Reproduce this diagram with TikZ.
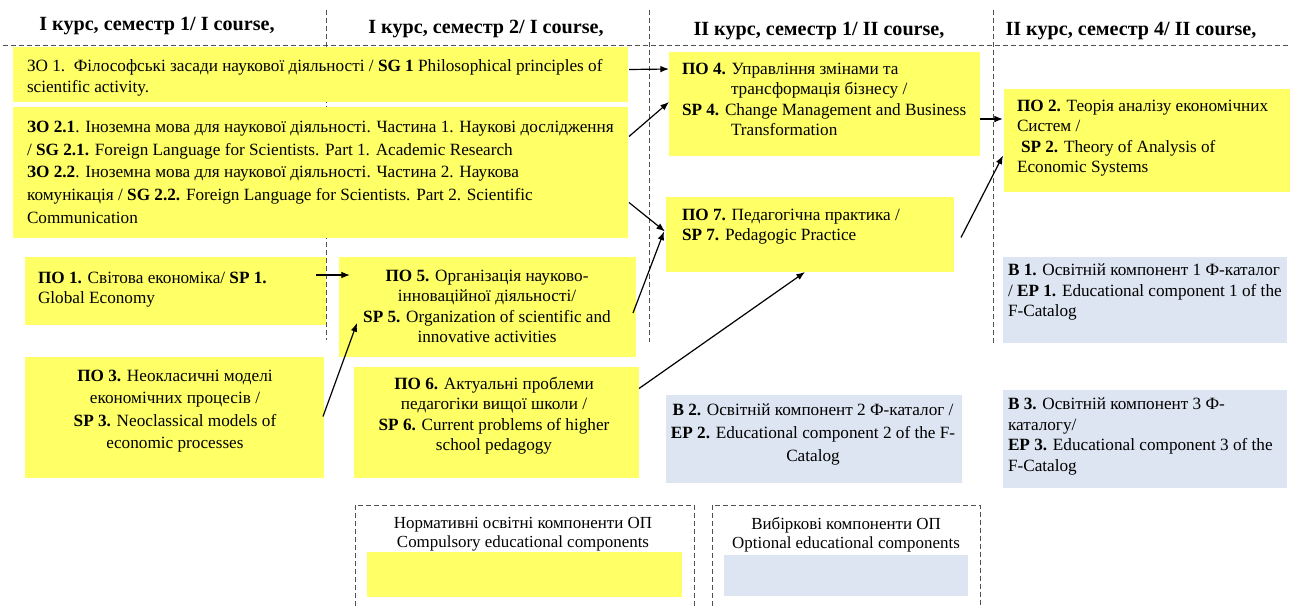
\documentclass[tikz,border=0pt]{standalone}
\usepackage{fontspec}
\setmainfont{Liberation Serif}
\usetikzlibrary{arrows.meta,fit}
\definecolor{yel}{RGB}{255,255,102}
\definecolor{blu}{RGB}{220,229,241}
\definecolor{dashc}{RGB}{80,80,80}
\begin{document}
\begin{tikzpicture}[x=0.75pt,y=-0.75pt,
  ybox/.style={fill=yel,draw=none,inner sep=0pt,outer sep=0pt},
  bbox/.style={fill=blu,draw=none,inner sep=0pt,outer sep=0pt},
  txt/.style={inner sep=0pt,outer sep=0pt,align=left,font={\fontsize{12.9}{15.4}\selectfont}},
  ctxt/.style={inner sep=0pt,outer sep=0pt,align=center,font={\fontsize{12.9}{15.4}\selectfont}},
  head/.style={inner sep=0pt,font={\fontsize{15.1}{17}\selectfont\bfseries}},
  grid/.style={draw=dashc,dash pattern=on 3.5pt off 2.5pt,line width=0.7pt},
  arr/.style={draw=black,line width=0.9pt,-{Latex[length=6.5pt,width=5pt]}}]
\useasboundingbox (0,0) rectangle (1291,606);

% grid lines
\draw[grid] (3,45) -- (1291,45);
\draw[grid] (326,10) -- (326,340);
\draw[grid] (649,10) -- (649,342);
\draw[grid] (993,10) -- (993,345);

% headers
\node[head] (h1) at (157,26) {I курс, семестр 1/ I course,};
\node[head] (h2) at (486,29) {I курс, семестр 2/ I course,};
\node[head] (h3) at (819,31) {II курс, семестр 1/ II course,};
\node[head] (h4) at (1131,31) {II курс, семестр 4/ II course,};

% boxes
\node[ybox,fit={(13,47) (628,102)}] (zo1) {};
\node[ybox,fit={(13,107) (628,238)}] (zo2) {};
\node[ybox,fit={(25,257) (326,325)}] (po1) {};
\node[ybox,fit={(25,357) (324,478)}] (po3) {};
\node[ybox,fit={(339,257) (636,357)}] (po5) {};
\node[ybox,fit={(354,367) (639,478)}] (po6) {};
\node[ybox,fit={(669,52) (980,156)}] (po4) {};
\node[ybox,fit={(666,197) (954,272)}] (po7) {};
\node[ybox,fit={(1004,89) (1290,192)}] (po2) {};
\node[bbox,fit={(1003,257) (1287,343)}] (b1) {};
\node[bbox,fit={(666,395) (962,483)}] (b2) {};
\node[bbox,fit={(1003,390) (1287,488)}] (b3) {};

% texts
\node[txt,anchor=north west,font={\fontsize{12.9}{16.2}\selectfont}] (zo1t) at (27,59)
  {ЗО 1.\ \ Філософські засади наукової діяльності / \textbf{SG 1} Philosophical principles of\\scientific activity.};
\node[txt,anchor=north west,font={\fontsize{12.9}{17}\selectfont}] (zo2t) at (27,121)
  {\textbf{ЗО 2.1}. Іноземна мова для наукової діяльності. Частина 1. Наукові дослідження\\
   / \textbf{SG 2.1.} Foreign Language for Scientists. Part 1. Academic Research\\
   \textbf{ЗО 2.2}. Іноземна мова для наукової діяльності. Частина 2. Наукова\\
   комунікація / \textbf{SG 2.2.} Foreign Language for Scientists. Part 2. Scientific\\
   Communication};
\node[txt,anchor=north west] (po1t) at (38,272)
  {\textbf{ПО 1.} Світова економіка/ \textbf{SP 1.}\\Global Economy};
\node[ctxt,anchor=north,font={\fontsize{12.9}{16.8}\selectfont}] (po3t) at (175,370)
  {\textbf{ПО 3.} Неокласичні моделі\\економічних процесів /\\\textbf{SP 3.} Neoclassical models of\\economic processes};
\node[ctxt,anchor=north] (po5t) at (487,270)
  {\textbf{ПО 5.} Організація науково-\\інноваційної діяльності/\\\textbf{SP 5.} Organization of scientific and\\innovative activities};
\node[ctxt,anchor=north] (po6t) at (494,377)
  {\textbf{ПО 6.} Актуальні проблеми\\педагогіки вищої школи /\\\textbf{SP 6.} Current problems of higher\\school pedagogy};
\node[txt,anchor=north west] (po4t) at (682,63)
  {\textbf{ПО 4.} Управління змінами та\\\hspace*{36.75pt}трансформація бізнесу /\\\textbf{SP 4.} Change Management and Business\\\hspace*{36.75pt}Transformation};
\node[txt,anchor=north west] (po7t) at (682,209)
  {\textbf{ПО 7.} Педагогічна практика /\\\textbf{SP 7.} Pedagogic Practice};
\node[txt,anchor=north west] (po2t) at (1017,100)
  {\textbf{ПО 2.} Теорія аналізу економічних\\Систем /\\\hspace*{3pt}\textbf{SP 2.} Theory of Analysis of\\Economic Systems};
\node[txt,anchor=north west] (b1t) at (1008,264)
  {\textbf{В 1.} Освітній компонент 1 Ф-каталог\\/ \textbf{EP 1.} Educational component 1 of the\\F-Catalog};
\node[ctxt,anchor=north,font={\fontsize{12.9}{17.2}\selectfont}] (b2t) at (813,404)
  {\textbf{В 2.} Освітній компонент 2 Ф-каталог /\\\textbf{EP 2.} Educational component 2 of the F-\\Catalog};
\node[txt,anchor=north west] (b3t) at (1008,398)
  {\textbf{В 3.} Освітній компонент 3 Ф-\\каталогу/\\\textbf{EP 3.} Educational component 3 of the\\F-Catalog};

% legend
\draw[grid] (355,606) -- (355,505) -- (694,505) -- (694,606);
\draw[grid] (712,606) -- (712,505) -- (980,505) -- (980,606);
\node[ctxt,anchor=north,font={\fontsize{12.7}{14.3}\selectfont}] (l1t) at (523,517)
  {Нормативні освітні компоненти ОП\\Compulsory educational components};
\node[ctxt,anchor=north,font={\fontsize{12.7}{14.3}\selectfont}] (l2t) at (846,517)
  {Вибіркові компоненти ОП\\Optional educational components};
\node[ybox,fit={(367,552) (682,597)}] (l1) {};
\node[bbox,fit={(724,555) (968,596)}] (l2) {};

% arrows
\draw[arr] ([shift={(1,-5)}]zo1.east) -- ([shift={(0,-35)}]po4.west);
\draw[arr] ([shift={(1,-36)}]zo2.east) -- ([shift={(0,-2)}]po4.west);
\draw[arr] ([shift={(1,30)}]zo2.east) -- ([shift={(-1,-3)}]po7.west);
\draw[arr] ([shift={(-3,6)}]po5.east) -- ([shift={(-2,-3)}]po7.west);
\draw[arr] ([shift={(-10,-16)}]po1.east) -- ([shift={(11,-32)}]po5.west);
\draw[arr] ([shift={(-1,-1)}]po3.east) -- ([shift={(18,16)}]po5.west);
\draw[arr] ([shift={(0,-34)}]po6.east) -- ([shift={(-5,0)}]po7.south);
\draw[arr] ([shift={(0,15)}]po4.east) -- ([shift={(-1,-21.5)}]po2.west);
\draw[arr] ([shift={(7,3)}]po7.east) -- ([shift={(-1,15)}]po2.west);
\end{tikzpicture}
\end{document}
